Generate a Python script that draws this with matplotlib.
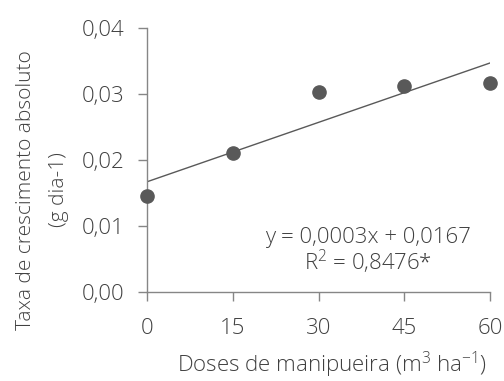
import matplotlib
matplotlib.use('Agg')
import matplotlib.pyplot as plt
import numpy as np

# data
doses = [0, 15, 30, 45, 60]
taxa = [0.0145, 0.0211, 0.0303, 0.0312, 0.0317]
slope = 0.0003
intercept = 0.0167
xticks = [0, 15, 30, 45, 60]
yticks = [0.00, 0.01, 0.02, 0.03, 0.04]
ytick_labels = ['0,00', '0,01', '0,02', '0,03', '0,04']

plt.rcParams['font.family'] = ['Open Sans', 'DejaVu Sans']
plt.rcParams['mathtext.fontset'] = 'custom'
plt.rcParams['mathtext.rm'] = 'Open Sans:light'
plt.rcParams['mathtext.default'] = 'regular'

text_color = '#404040'
axis_color = '#868686'
mark_color = '#595959'
fs = 16

fig = plt.figure(figsize=(5.04, 3.81), dpi=100)
ax = fig.add_axes([147/504, 1 - 292/381, (490-147)/504, (292-28)/381])

# regression line from the fitted coefficients
x_line = np.array([doses[0], doses[-1]])
ax.plot(x_line, slope * x_line + intercept, color=mark_color, linewidth=1.0, zorder=2)
ax.plot(doses, taxa, 'o', color=mark_color, markersize=9.5, zorder=3, clip_on=False)

ax.set_xlim(0, 60)
ax.set_ylim(0, 0.04)
ax.set_xticks(xticks)
ax.set_xticklabels([str(t) for t in xticks])
ax.set_yticks(yticks)
ax.set_yticklabels(ytick_labels)

for s in ['top', 'right']:
    ax.spines[s].set_visible(False)
for s in ['left', 'bottom']:
    ax.spines[s].set_color(axis_color)
    ax.spines[s].set_linewidth(1.0)

ax.tick_params(axis='both', colors=axis_color, length=6.5, width=1.0, labelsize=fs,
               labelcolor=text_color, direction='out')
ax.tick_params(axis='x', pad=12)
ax.tick_params(axis='y', pad=10)
for lab in ax.get_xticklabels() + ax.get_yticklabels():
    lab.set_fontweight('light')

fig.text(368/504, 1 - 237/381, 'y = 0,0003x + 0,0167', ha='center', va='center',
         fontsize=fs, color=text_color, fontweight='light')
fig.text(368/504, 1 - 262/381, 'R$^2$ = 0,8476*', ha='center', va='center',
         fontsize=fs, color=text_color, fontweight='light')

fig.text(26/504, 1 - 190/381, 'Taxa de crescimento absoluto', rotation=90,
         ha='center', va='center', fontsize=15, color=text_color, fontweight='light')
fig.text(59/504, 1 - 190/381, '(g dia-1)', rotation=90,
         ha='center', va='center', fontsize=15, color=text_color, fontweight='light')
fig.text(332/504, 1 - 372/381, 'Doses de manipueira (m$^3$ ha$^{-1}$)',
         ha='center', va='baseline', fontsize=fs, color=text_color, fontweight='light')

fig.savefig('out.png', dpi=100)
